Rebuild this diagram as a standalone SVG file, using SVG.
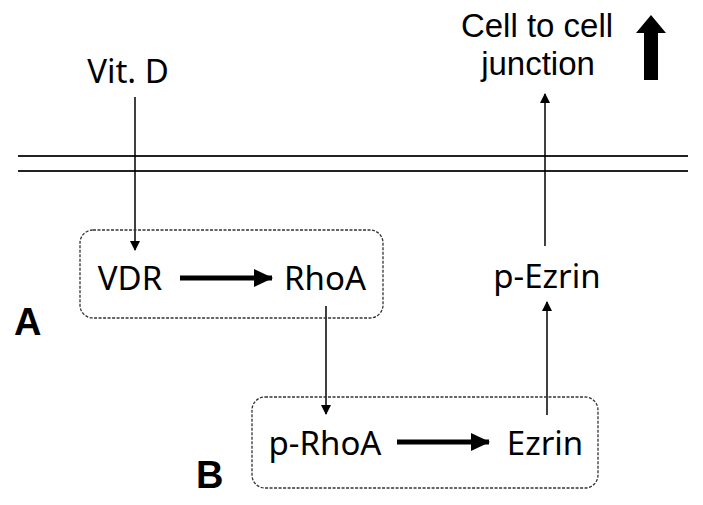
<svg xmlns="http://www.w3.org/2000/svg" width="703" height="505" viewBox="0 0 703 505">
<defs>
<marker id="ah" markerWidth="10" markerHeight="10" refX="9" refY="5" orient="auto" markerUnits="userSpaceOnUse"><path d="M0,0 L10,5 L0,10 Z" fill="#000"/></marker>
<marker id="ahb" markerWidth="20" markerHeight="18" refX="18" refY="9" orient="auto" markerUnits="userSpaceOnUse"><path d="M0,0 L19,9 L0,18 Z" fill="#000"/></marker>
<style>
.t{font-family:"Noto Sans","Open Sans","Liberation Sans",sans-serif;font-size:33px;fill:#000;text-anchor:middle}
.j{font-family:"Liberation Sans",Arial,sans-serif;font-size:33px;fill:#000;text-anchor:middle}
.lbl{font-family:"Liberation Sans",Arial,sans-serif;font-size:38px;font-weight:bold;fill:#000}
.box{fill:none;stroke:#333;stroke-width:1.3;stroke-dasharray:3,1.5}
.ln{stroke:#000;stroke-width:1.5;fill:none}
.thick{stroke:#000;stroke-width:5;fill:none}
.mem{stroke:#222;stroke-width:2}
</style>
</defs>
<rect width="703" height="505" fill="#fff"/>
<g id="membrane">
<line class="mem" x1="18" y1="156" x2="688" y2="156"/>
<line class="mem" x1="18" y1="171" x2="688" y2="171"/>
</g>
<g id="connectors">
<line class="ln" x1="135" y1="97" x2="135" y2="250" marker-end="url(#ah)"/>
<line class="thick" x1="180" y1="278" x2="272" y2="278" marker-end="url(#ahb)"/>
<line class="ln" x1="326" y1="306" x2="326" y2="414" marker-end="url(#ah)"/>
<line class="thick" x1="397" y1="442" x2="489" y2="442" marker-end="url(#ahb)"/>
<line class="ln" x1="547" y1="415" x2="547" y2="302" marker-end="url(#ah)"/>
<line class="ln" x1="545" y1="246" x2="545" y2="94" marker-end="url(#ah)"/>
</g>
<g id="boxA"><rect class="box" x="80" y="230" width="303" height="88" rx="13"/></g>
<g id="boxB"><rect class="box" x="252" y="397" width="346" height="91" rx="13"/></g>
<g id="vitd"><text class="t" x="128" y="83">Vit. D</text></g>
<g id="vdr"><text class="t" x="130" y="290">VDR</text></g>
<g id="rhoa"><text class="t" x="325" y="290">RhoA</text></g>
<g id="prhoa"><text class="t" x="325" y="455">p-RhoA</text></g>
<g id="ezrin"><text class="t" x="545" y="455">Ezrin</text></g>
<g id="pezrin"><text class="t" x="547" y="288">p-Ezrin</text></g>
<g id="junction"><text class="j" x="537" y="37">Cell to cell</text><text class="j" x="538" y="75">junction</text></g>
<g id="bigarrow"><path d="M644,80 L644,33 L636,33 L651,15 L666,33 L658,33 L658,80 Z" fill="#000"/></g>
<g id="labelA"><text class="lbl" x="14" y="335">A</text></g>
<g id="labelB"><text class="lbl" x="196" y="488">B</text></g>
</svg>
